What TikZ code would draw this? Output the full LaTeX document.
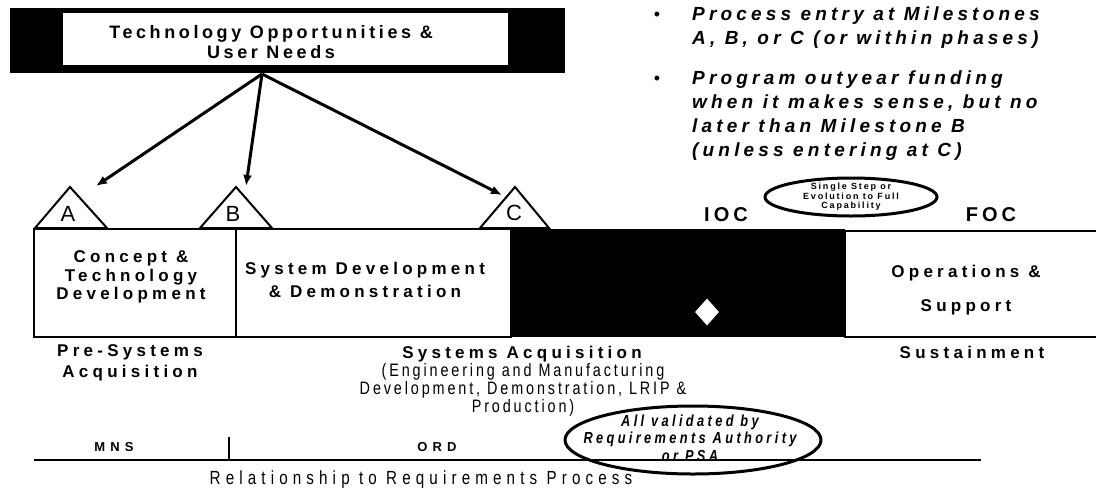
\documentclass[tikz,border=0pt]{standalone}
\usepackage{fontspec}
\setmainfont{Liberation Sans}
\newfontfamily\widefont[LetterSpace=25]{Liberation Sans}
\newfontfamily\headfont[LetterSpace=20]{Liberation Sans}
\newfontfamily\narrowfont[FakeStretch=0.8,LetterSpace=16]{Liberation Sans}
\newfontfamily\relfont[FakeStretch=0.8,LetterSpace=27]{Liberation Sans}
\newfontfamily\ovalfont[FakeStretch=0.8,LetterSpace=21]{Liberation Sans}
\newfontfamily\notefont[LetterSpace=22]{Liberation Sans}
\newfontfamily\docfont[LetterSpace=40]{Liberation Sans}
\usetikzlibrary{arrows.meta,shapes.geometric}

\tikzset{
	phase/.style={font={\widefont\bfseries\fontsize{17}{18.5}\selectfont}, align=center, inner sep=0pt},
	milestone/.style={font={\fontsize{22}{22}\selectfont}, inner sep=0pt},
	needarrow/.style={line width=3pt, -{Latex[length=11pt,width=9pt]}},
	frame/.style={line width=2pt},
	note/.style={font={\notefont\bfseries\itshape\fontsize{19}{24}\selectfont}, align=left, inner sep=0pt, anchor=west},
	oval/.style={draw, ellipse, line width=3pt, inner sep=0pt}
}

\begin{document}
\begin{tikzpicture}[x=1pt, y=-1pt]
		%%%%% START %%%%%
		\useasboundingbox (0,0) rectangle (1096,491);
		
		% needs box
		\fill[black] (10,8) rectangle (565,73);
		\fill[white] (63,13) rectangle (508,65);
		\node[phase, font={\headfont\bfseries\fontsize{18}{20}\selectfont}] (needs) at (271,42) {Technology Opportunities \&\\User Needs};
		\coordinate (needsfoot) at (262,74);
		
		% notes
		\node[inner sep=0pt, font=\fontsize{18}{18}\selectfont] (dot1) at (657,16) {\textbullet};
		\node[note] (entry) at (692,28) {Process entry at Milestones\\A, B, or C (or within phases)};
		\node[inner sep=0pt, font=\fontsize{18}{18}\selectfont] (dot2) at (657,80) {\textbullet};
		\node[note] (funding) at (692,116) {Program outyear funding\\when it makes sense, but no\\later than Milestone B\\(unless entering at C)};
		
		% phases
		\draw[frame] (34,229) rectangle (236,337);
		\draw[frame] (236,229) rectangle (511,337);
		\fill[black] (511,229) rectangle (845,337);
		\draw[frame] (1096,231) -- (845,231) -- (845,337) -- (1096,337);
		
		\node[phase] (concept) at (131,277) {Concept \&\\Technology\\Development};
		\node[phase, font={\widefont\bfseries\fontsize{17}{23}\selectfont}] (sdd) at (365,280) {System Development\\\& Demonstration};
		\node[diamond, fill=white, minimum width=24pt, minimum height=27pt, inner sep=0pt] (iocmark) at (707,312) {};
		\node[phase, font={\widefont\bfseries\fontsize{17}{34}\selectfont}] (ops) at (966,290) {Operations \&\\Support};
		
		% milestones
		\draw[frame, fill=white] (35,228) -- (70,187) -- (107,228) -- cycle;
		\draw[frame, fill=white] (200,228) -- (236,187) -- (272,228) -- cycle;
		\draw[frame, fill=white] (480,228) -- (515,187) -- (549,228) -- cycle;
		\node[milestone] (msA) at (68,214) {A};
		\node[milestone] (msB) at (233,214) {B};
		\node[milestone] (msC) at (514,213) {C};
		\coordinate (tipA) at (96,186);
		\coordinate (tipB) at (246,186);
		\coordinate (tipC) at (502,195);
		
		\draw[needarrow] (needsfoot) -- (tipA);
		\draw[needarrow] (needsfoot) -- (tipB);
		\draw[needarrow] (needsfoot) -- (tipC);
		
		\node[phase, font={\headfont\bfseries\fontsize{20}{20}\selectfont}] (ioc) at (726,215) {IOC};
		\node[phase, font={\headfont\bfseries\fontsize{20}{20}\selectfont}] (foc) at (991,215) {FOC};
		\node[oval, minimum width=172pt, minimum height=38pt] (stepoval) at (851,197) {};
		\node[phase, font={\headfont\bfseries\fontsize{9}{9.5}\selectfont}] (steptext) at (stepoval.center) {Single Step or\\Evolution to Full\\Capability};
		
		% phase names
		\node[phase, font={\widefont\bfseries\fontsize{17}{21}\selectfont}] (presys) at (130,363) {Pre-Systems\\Acquisition};
		\node[phase] (sysacq) at (522,354) {Systems Acquisition};
		\node[phase, font={\narrowfont\fontsize{18}{16.5}\selectfont}] (sysacqnote) at (523,390) {(Engineering and Manufacturing\\Development, Demonstration, LRIP \&\\Production)};
		\node[phase] (sustain) at (972,352) {Sustainment};
		
		% requirements
		\draw[line width=2.5pt] (34,460) -- (981,460);
		\draw[frame] (229,437) -- (229,459);
		\node[phase, font={\docfont\bfseries\fontsize{13}{13}\selectfont}] (mns) at (114,447) {MNS};
		\node[phase, font={\docfont\bfseries\fontsize{13}{13}\selectfont}] (ord) at (437,447) {ORD};
		\node[oval, minimum width=256pt, minimum height=68pt] (reqoval) at (693,440) {};
		\node[phase, font={\ovalfont\bfseries\itshape\fontsize{16}{17.5}\selectfont}] (reqtext) at (690,438) {All validated by\\Requirements Authority\\or PSA};
		\node[phase, font={\relfont\fontsize{19}{19}\selectfont}] (reltext) at (421,480) {Relationship to Requirements Process};
		
		%%%%% END %%%%%
	\end{tikzpicture}
\end{document}
